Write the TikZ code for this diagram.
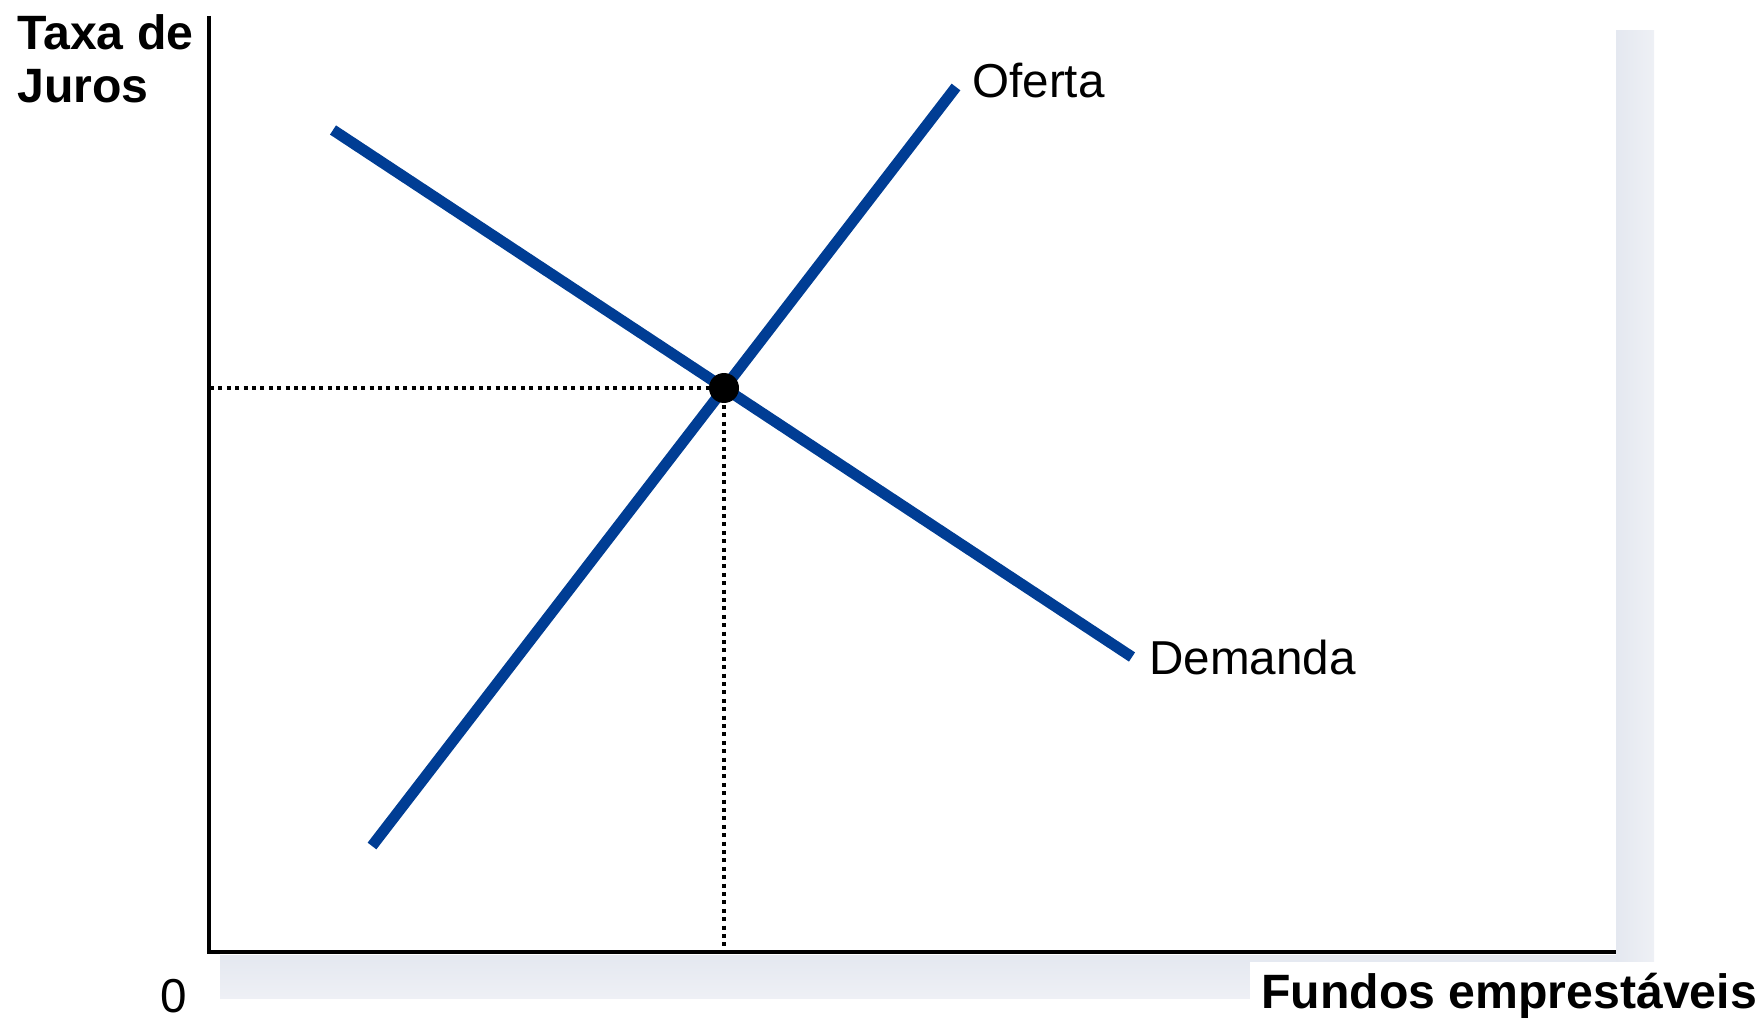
\documentclass[tikz,border=0pt]{standalone}
\usepackage{fontspec}
\setmainfont{Liberation Sans}
\definecolor{curveblue}{RGB}{0,61,148}
\definecolor{shadowgray}{RGB}{228,232,240}
\definecolor{shadowlight}{RGB}{238,240,245}
\begin{document}
\begin{tikzpicture}[x=0.5pt,y=-0.5pt,
  lbl/.style={inner sep=0pt,anchor=base west,font=\fontsize{23.8}{26.5}\selectfont},
  boldlbl/.style={lbl,font=\fontsize{24.1}{26.5}\selectfont\bfseries},
  curve/.style={draw=curveblue,line width=5.5pt},
  axisline/.style={draw=black,line width=2pt},
  guide/.style={draw=black,line width=2pt,dash pattern=on 2pt off 2.2pt}]
\useasboundingbox (0,0) rectangle (1760,1021);
% shadow
\shade[left color=shadowgray,right color=shadowlight] (1616,31) rectangle (1654,998);
\shade[top color=shadowgray,bottom color=shadowlight] (220,955) rectangle (1616,998);
\fill[white] (1250,962) rectangle (1760,1021);
% coordinates
\coordinate (ytop) at (209,16);
\coordinate (orig) at (209,952);
\coordinate (xend) at (1616,952);
\coordinate (s1) at (372,846);
\coordinate (s2) at (956,87);
\coordinate (d1) at (333,130);
\coordinate (d2) at (1132,657);
\coordinate (eqy) at (210,388);
\coordinate (eqx) at (724,952);
% guides
\draw[guide] (eqy) -- (724,388);
\draw[guide] (724,388) -- (eqx);
% axes
\draw[axisline] (ytop) -- (orig) -- (xend);
% curves
\draw[curve] (s1) -- (s2);
\draw[curve] (d1) -- (d2);
\node[circle,fill=black,inner sep=0pt,minimum size=15pt] (eq) at (724,388) {};
% labels
\node[boldlbl] (lt1) at (17,50) {Taxa de};
\node[boldlbl] (lt2) at (17,103) {Juros};
\node[lbl] (of) at (972,98) {Oferta};
\node[lbl] (dm) at (1149,674) {Demanda};
\node[lbl] (zero) at (160,1012) {0};
\node[boldlbl] (fe) at (1261,1008) {Fundos emprestáveis};
\end{tikzpicture}
\end{document}
